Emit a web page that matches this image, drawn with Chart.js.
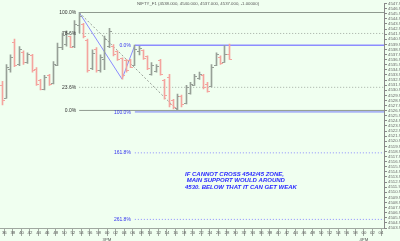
<!DOCTYPE html>
<html><head><meta charset="utf-8">
<script src="https://cdn.jsdelivr.net/npm/chart.js@4/dist/chart.umd.min.js"></script>
<style>html,body{margin:0;padding:0;background:#f0fff0;overflow:hidden}canvas{display:block}</style>
</head><body>
<canvas id="c" width="400" height="241"></canvas>
<script>
// ---- data (1-minute OHLC bars, NIFTY_F1) ----
const opens  = [4532.0,4529.5,4535.2,4540.5,4536.2,4538.5,4536.5,4537.8,4535.2,4533.0,4531.2,4534.0,4532.4,4536.0,4539.4,4540.0,4541.5,4539.6,4543.8,4544.0,4540.8,4535.3,4539.0,4535.0,4537.0,4539.6,4539.7,4538.6,4537.2,4536.8,4536.8,4536.0,4538.6,4538.8,4537.6,4534.2,4534.8,4536.8,4533.0,4533.5,4529.0,4527.4,4529.8,4528.5,4530.4,4532.0,4533.3,4534.0,4532.2,4531.8,4535.9,4537.5,4536.5,4538.0];
const highs  = [4532.7,4536.0,4537.9,4541.0,4539.5,4538.7,4538.3,4538.0,4535.4,4533.1,4533.9,4534.1,4536.6,4540.2,4542.2,4542.6,4541.6,4544.6,4546.2,4544.1,4541.0,4538.9,4539.3,4537.9,4541.6,4543.1,4539.9,4538.7,4537.3,4537.0,4537.0,4539.8,4539.6,4538.9,4537.7,4536.4,4536.0,4537.0,4533.1,4534.1,4529.2,4530.2,4530.0,4531.9,4532.5,4534.1,4534.5,4534.1,4532.5,4536.0,4538.3,4537.7,4539.7,4540.0];
const lows   = [4528.1,4529.4,4534.5,4535.6,4535.8,4536.0,4536.2,4534.5,4531.9,4531.0,4531.0,4531.9,4532.2,4535.8,4538.9,4539.6,4539.3,4539.3,4542.2,4541.2,4534.5,4535.0,4534.5,4534.5,4535.0,4539.3,4537.7,4536.8,4533.15,4534.5,4535.4,4535.8,4537.9,4537.0,4535.0,4533.9,4534.5,4533.9,4529.2,4527.7,4527.3,4527.0,4527.7,4528.3,4530.2,4531.9,4533.1,4531.2,4530.6,4531.6,4535.8,4536.0,4536.4,4537.0];
const closes = [4529.0,4535.5,4537.5,4536.0,4539.0,4536.4,4538.0,4535.0,4532.2,4531.3,4533.5,4532.2,4536.2,4539.5,4541.8,4542.2,4539.5,4544.0,4545.5,4541.6,4535.0,4538.2,4535.0,4537.4,4541.0,4542.5,4538.0,4537.0,4534.0,4535.0,4535.6,4539.0,4539.2,4537.3,4535.4,4536.0,4535.8,4534.2,4530.0,4528.3,4527.6,4529.8,4528.2,4531.5,4532.2,4533.8,4534.2,4531.5,4530.9,4535.6,4538.0,4536.3,4538.0,4537.0];
const lastChange = "-1.00000";
const startMinute = 36;              // first x-axis cell = 2:36 PM
const hourLabels = {60: "3PM", 120: "4PM"};
const yTickMin = 4504, yTickMax = 4547;
// Fibonacci retracement (high bar -> low bar)
const retrHigh = 4546.2, retrLow = 4527.0, retrHighBar = 18, retrLowBar = 41;
const retrPcts = [100, 78.6, 23.6, 0];
// Fibonacci extension (A -> B -> C)
const extA = 4546.2, extB = 4533.15, extC = 4539.8, extBarA = 18, extBarB = 28, extBarC = 31;
const extPcts = [0, 100, 161.8, 261.8];
const noteLines = ["IF CANNOT CROSS 4542/45 ZONE,", " MAIN SUPPORT WOULD AROUND", "4530. BELOW THAT IT CAN GET WEAK"];

// ---- styles ----
const UP = '#97a097', DOWN = '#f4a49e', GREY = '#8f9a8f', BLUE = '#8c8cff';
const XMAX = 89.7;
const bx = i => i + 0.5;
const snap = v => Math.round(v - 0.5) + 0.5;

const retrLevel = p => retrLow + (retrHigh - retrLow) * p / 100;
const extLevel = p => extC - (extA - extB) * p / 100;

const datasets = [{
  type: 'bar',
  data: highs.map((h, i) => ({x: bx(i), y: [lows[i], h]})),
  backgroundColor: opens.map((o, i) => closes[i] >= o ? UP : DOWN),
  barThickness: 1, borderWidth: 0, order: 1
}];
retrPcts.forEach(p => {
  const dotted = p !== 0 && p !== 100;
  datasets.push({type: 'line', data: [{x: bx(retrHighBar), y: retrLevel(p)}, {x: XMAX, y: retrLevel(p)}],
    borderColor: dotted ? '#a3aca3' : GREY, borderWidth: 1, borderDash: dotted ? [1, 2] : [], pointRadius: 0, order: 2});
});
extPcts.forEach(p => {
  const dotted = p > 100;
  datasets.push({type: 'line', data: [{x: bx(extBarC), y: extLevel(p)}, {x: XMAX, y: extLevel(p)}],
    borderColor: p === 100 ? '#aab4f4' : BLUE, borderWidth: p === 100 ? 2 : (dotted ? 1 : 1.5), borderDash: dotted ? [1, 2] : [], pointRadius: 0, order: 2});
});
datasets.push({type: 'line', data: [{x: bx(retrHighBar), y: retrHigh}, {x: bx(retrLowBar), y: retrLow}],
  borderColor: '#98a098', borderWidth: 1, borderDash: [2, 2], pointRadius: 0, order: 2});
datasets.push({type: 'line', data: [{x: bx(extBarA), y: extA}, {x: bx(extBarB), y: extB}, {x: bx(extBarC), y: extC}],
  borderColor: BLUE, borderWidth: 1, pointRadius: 0, tension: 0, order: 2});

const deco = {
  id: 'deco',
  beforeDraw(chart) {
    const c = chart.ctx; c.save(); c.fillStyle = '#f0fff0'; c.fillRect(0, 0, chart.width, chart.height); c.restore();
  },
  beforeDatasetsDraw(chart) {
    // keep 1px range bars crisp on whole pixels
    chart.getDatasetMeta(0).data.forEach(el => { el.x = snap(el.x); });
  },
  afterDatasetsDraw(chart) {
    const c = chart.ctx, x = chart.scales.x, y = chart.scales.y;
    c.save();
    c.lineWidth = 1;
    opens.forEach((o, i) => {
      const px = snap(x.getPixelForValue(bx(i)));
      c.strokeStyle = closes[i] >= o ? UP : DOWN;
      const yo = Math.round(y.getPixelForValue(o)) + 0.5;
      const yc = Math.round(y.getPixelForValue(closes[i])) + 0.5;
      c.beginPath(); c.moveTo(px - 2.5, yo); c.lineTo(px, yo); c.moveTo(px, yc); c.lineTo(px + 2.5, yc); c.stroke();
    });
    c.font = '5px "Liberation Sans", Arial, sans-serif';
    c.textAlign = 'right'; c.textBaseline = 'middle';
    c.fillStyle = '#333';
    const rx = x.getPixelForValue(bx(retrHighBar)) - 3;
    retrPcts.forEach(p => c.fillText(p.toFixed(1) + '%', rx, y.getPixelForValue(retrLevel(p))));
    c.fillStyle = '#3333ee';
    const ex = x.getPixelForValue(bx(extBarC)) - 4;
    extPcts.forEach(p => c.fillText(p.toFixed(1) + '%', ex, y.getPixelForValue(extLevel(p)) + (p === 100 ? 1 : 0)));
    // title
    const n = opens.length - 1;
    c.textAlign = 'left'; c.fillStyle = '#555';
    c.font = '4.3px "Liberation Sans", Arial, sans-serif';
    c.fillText('NIFTY_F1 (' + [opens[n], highs[n], lows[n], closes[n]].map(v => v.toFixed(3)).join(', ') + ', ' + lastChange + ')', 137, 4);
    // note
    c.font = 'italic bold 6px "Liberation Sans", Arial, sans-serif';
    c.fillStyle = '#2a2aff';
    noteLines.forEach((t, k) => c.fillText(t, 185, 174 + k * 6.6));
    c.restore();
  }
};

new Chart(document.getElementById('c'), {
  data: {datasets},
  options: {
    responsive: false, animation: false, devicePixelRatio: 1,
    layout: {padding: 0, autoPadding: false},
    plugins: {legend: {display: false}, tooltip: {enabled: false}},
    scales: {
      x: {
        type: 'linear', position: 'bottom', min: 0, max: XMAX, offset: false,
        afterFit: s => { s.height = 13; },
        grid: {drawOnChartArea: false, drawTicks: true, tickLength: 8, color: '#a0a8a0', lineWidth: 1},
        border: {display: true, color: '#a0a8a0'},
        ticks: {
          stepSize: 2, autoSkip: false, minRotation: 0, maxRotation: 0, includeBounds: false, labelOffset: 4.28, padding: -7,
          color: '#555', font: {size: 4.3, family: '"Liberation Sans", Arial, sans-serif', lineHeight: 1.7},
          callback: v => {
            const m = startMinute + v;
            const s = String(m % 60).padStart(2, '0');
            return hourLabels[m] ? [s, hourLabels[m]] : s;
          }
        }
      },
      y: {
        type: 'linear', position: 'right', min: yTickMin - 0.05, max: yTickMax + 0.95,
        afterFit: s => { s.width = 16; },
        grid: {drawOnChartArea: false, drawTicks: true, tickLength: 3, color: '#888'},
        border: {display: true, color: '#888'},
        ticks: {stepSize: 1, autoSkip: false, includeBounds: false, padding: 1, color: '#666',
          font: {size: 4.3, family: '"Liberation Sans", Arial, sans-serif'},
          callback: v => String(v)}
      }
    }
  },
  plugins: [deco]
});
</script>
</body></html>
